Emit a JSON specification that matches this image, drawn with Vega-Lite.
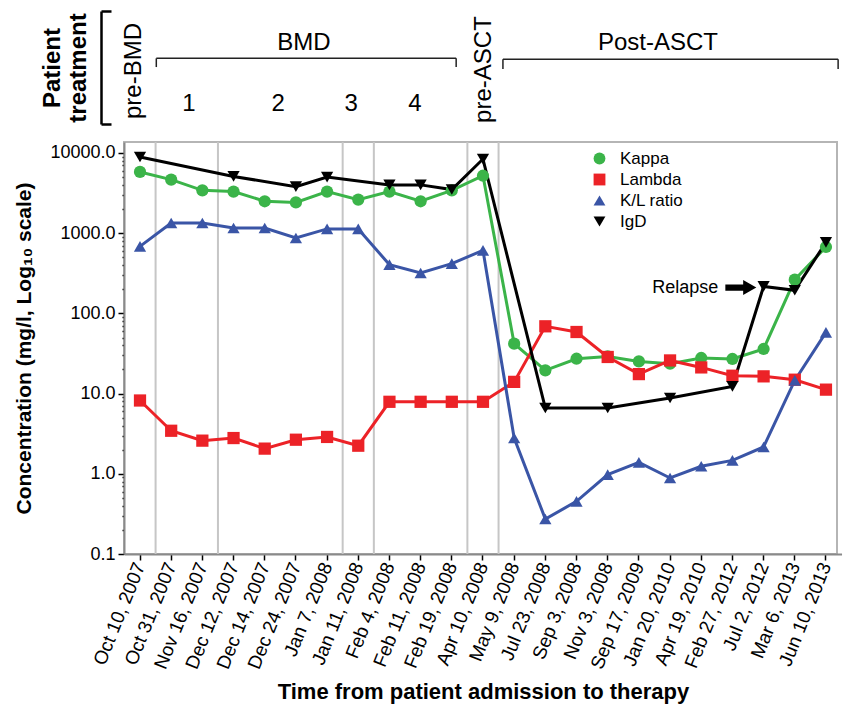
{
  "$schema": "https://vega.github.io/schema/vega-lite/v6.json",
  "background": "white",
  "padding": {"left": 12, "top": 9, "right": 2, "bottom": 2},
  "spacing": 18,
  "bounds": "flush",
  "config": {
    "font": "Liberation Sans",
    "axis": {"labelColor": "black", "titleColor": "black"},
    "text": {"color": "black"}
  },
  "vconcat": [
    {
      "width": 713,
      "height": 113,
      "view": {"stroke": null},
      "layer": [
        {
          "data": {"values": [
            {"x1": 0.523, "x2": 10.14, "y1": 0.581, "y2": 0.581},
            {"x1": 0.523, "x2": 0.523, "y1": 0.581, "y2": 0.504},
            {"x1": 10.14, "x2": 10.14, "y1": 0.581, "y2": 0.504},
            {"x1": 11.64, "x2": 22.39, "y1": 0.573, "y2": 0.573},
            {"x1": 11.64, "x2": 11.64, "y1": 0.573, "y2": 0.487},
            {"x1": 22.39, "x2": 22.39, "y1": 0.573, "y2": 0.487}
          ]},
          "mark": {"type": "rule", "color": "#222222", "strokeWidth": 1.5},
          "encoding": {
            "x": {"field": "x1", "type": "quantitative", "scale": {"domain": [-0.513, 22.354], "nice": false, "zero": false}, "axis": null},
            "x2": {"field": "x2"},
            "y": {"field": "y1", "type": "quantitative", "scale": {"domain": [0, 1], "nice": false, "zero": false},
              "axis": {
                "title": ["Patient", "treatment"],
                "titleFontSize": 24,
                "titleFontWeight": "bold",
                "titleLineHeight": 26,
                "titlePadding": 9,
                "labels": false,
                "values": [0, 1],
                "tickSize": -10,
                "tickWidth": 2.5,
                "tickColor": "black",
                "domainColor": "black",
                "domainWidth": 2.5,
                "grid": false,
                "offset": 23
              }
            },
            "y2": {"field": "y2"}
          }
        },
        {
          "data": {"values": [
            {"label": "BMD", "pos": 5.26, "level": 0.717},
            {"label": "Post-ASCT", "pos": 16.61, "level": 0.717},
            {"label": "1", "pos": 1.57, "level": 0.177},
            {"label": "2", "pos": 4.43, "level": 0.177},
            {"label": "3", "pos": 6.77, "level": 0.177},
            {"label": "4", "pos": 8.82, "level": 0.177}
          ]},
          "mark": {"type": "text", "fontSize": 24, "align": "center", "baseline": "middle"},
          "encoding": {
            "x": {"field": "pos", "type": "quantitative", "axis": null},
            "y": {"field": "level", "type": "quantitative",
              "axis": {
                "title": ["Patient", "treatment"],
                "titleFontSize": 24,
                "titleFontWeight": "bold",
                "titleLineHeight": 26,
                "titlePadding": 9,
                "labels": false,
                "values": [0, 1],
                "tickSize": -10,
                "tickWidth": 2.5,
                "tickColor": "black",
                "domainColor": "black",
                "domainWidth": 2.5,
                "grid": false,
                "offset": 23
              }
            },
            "text": {"field": "label"}
          }
        },
        {
          "data": {"values": [
            {"label": "pre-BMD", "pos": -0.19, "level": 0.469},
            {"label": "pre-ASCT", "pos": 11.02, "level": 0.482}
          ]},
          "mark": {"type": "text", "fontSize": 24, "angle": 270, "align": "center", "baseline": "middle"},
          "encoding": {
            "x": {"field": "pos", "type": "quantitative", "axis": null},
            "y": {"field": "level", "type": "quantitative",
              "axis": {
                "title": ["Patient", "treatment"],
                "titleFontSize": 24,
                "titleFontWeight": "bold",
                "titleLineHeight": 26,
                "titlePadding": 9,
                "labels": false,
                "values": [0, 1],
                "tickSize": -10,
                "tickWidth": 2.5,
                "tickColor": "black",
                "domainColor": "black",
                "domainWidth": 2.5,
                "grid": false,
                "offset": 23
              }
            },
            "text": {"field": "label"}
          }
        }
      ]
    },
    {
      "width": 713,
      "height": 412,
      "view": {"stroke": "#b5b5b5", "strokeWidth": 2},
      "layer": [
        {
          "data": {"values": [
            {"date": "Oct 31, 2007"},
            {"date": "Dec 12, 2007"},
            {"date": "Jan 11, 2008"},
            {"date": "Feb 4, 2008"},
            {"date": "Apr 10, 2008"},
            {"date": "May 9, 2008"}
          ]},
          "mark": {"type": "rule", "color": "#c6c6c6", "strokeWidth": 2},
          "encoding": {
            "x": {
              "field": "date", "type": "nominal", "bandPosition": 0,
              "scale": {
                "type": "band",
                "domain": ["Oct 10, 2007", "Oct 31, 2007", "Nov 16, 2007", "Dec 12, 2007", "Dec 14, 2007", "Dec 24, 2007", "Jan 7, 2008", "Jan 11, 2008", "Feb 4, 2008", "Feb 11, 2008", "Feb 19, 2008", "Apr 10, 2008", "May 9, 2008", "Jul 23, 2008", "Sep 3, 2008", "Nov 3, 2008", "Sep 17, 2009", "Jan 20, 2010", "Apr 19, 2010", "Feb 27, 2012", "Jul 2, 2012", "Mar 6, 2013", "Jun 10, 2013"],
                "range": [0.41, 717.55],
                "paddingInner": 0,
                "paddingOuter": 0
              },
              "axis": {
                "title": "Time from patient admission to therapy",
                "bandPosition": 0.5,
                "labelAngle": -68,
                "labelAlign": "right",
                "labelBaseline": "middle",
                "labelFontSize": 19,
                "labelPadding": 3,
                "tickSize": 6,
                "tickWidth": 1.5,
                "tickColor": "black",
                "domainColor": "#8a8a8a",
                "domainWidth": 2,
                "grid": false,
                "titleFontSize": 22,
                "titleFontWeight": "bold",
                "titlePadding": 10
              }
            }
          }
        },
        {
          "data": {"values": [
            {"date": "Oct 10, 2007", "Kappa": 5800, "Lambda": 8.2, "K/L ratio": 684, "IgD": 8900},
            {"date": "Oct 31, 2007", "Kappa": 4650, "Lambda": 3.44, "K/L ratio": 1340, "IgD": null},
            {"date": "Nov 16, 2007", "Kappa": 3420, "Lambda": 2.59, "K/L ratio": 1340, "IgD": null},
            {"date": "Dec 12, 2007", "Kappa": 3300, "Lambda": 2.79, "K/L ratio": 1160, "IgD": 5100},
            {"date": "Dec 14, 2007", "Kappa": 2500, "Lambda": 2.06, "K/L ratio": 1160, "IgD": null},
            {"date": "Dec 24, 2007", "Kappa": 2420, "Lambda": 2.66, "K/L ratio": 871, "IgD": 3800},
            {"date": "Jan 7, 2008", "Kappa": 3300, "Lambda": 2.88, "K/L ratio": 1130, "IgD": 5000},
            {"date": "Jan 11, 2008", "Kappa": 2620, "Lambda": 2.24, "K/L ratio": 1130, "IgD": null},
            {"date": "Feb 4, 2008", "Kappa": 3300, "Lambda": 7.9, "K/L ratio": 405, "IgD": 4000},
            {"date": "Feb 11, 2008", "Kappa": 2500, "Lambda": 7.9, "K/L ratio": 319, "IgD": 4000},
            {"date": "Feb 19, 2008", "Kappa": 3420, "Lambda": 7.9, "K/L ratio": 417, "IgD": 3500},
            {"date": "Apr 10, 2008", "Kappa": 5200, "Lambda": 7.9, "K/L ratio": 611, "IgD": 8400},
            {"date": "May 9, 2008", "Kappa": 41.9, "Lambda": 14, "K/L ratio": 2.79, "IgD": null},
            {"date": "Jul 23, 2008", "Kappa": 19.5, "Lambda": 69, "K/L ratio": 0.273, "IgD": 6.6},
            {"date": "Sep 3, 2008", "Kappa": 27.2, "Lambda": 58.6, "K/L ratio": 0.453, "IgD": null},
            {"date": "Nov 3, 2008", "Kappa": 29, "Lambda": 28.6, "K/L ratio": 0.975, "IgD": 6.6},
            {"date": "Sep 17, 2009", "Kappa": 25.2, "Lambda": 17.5, "K/L ratio": 1.39, "IgD": null},
            {"date": "Jan 20, 2010", "Kappa": 23.6, "Lambda": 25.9, "K/L ratio": 0.887, "IgD": 8.8},
            {"date": "Apr 19, 2010", "Kappa": 27.8, "Lambda": 21.2, "K/L ratio": 1.24, "IgD": null},
            {"date": "Feb 27, 2012", "Kappa": 27, "Lambda": 16.7, "K/L ratio": 1.47, "IgD": 12.3},
            {"date": "Jul 2, 2012", "Kappa": 36, "Lambda": 16.4, "K/L ratio": 2.16, "IgD": 217},
            {"date": "Mar 6, 2013", "Kappa": 263, "Lambda": 14.9, "K/L ratio": 14.6, "IgD": 194},
            {"date": "Jun 10, 2013", "Kappa": 673, "Lambda": 11.2, "K/L ratio": 58, "IgD": 767}
          ]},
          "transform": [
            {"fold": ["Kappa", "Lambda", "K/L ratio", "IgD"], "as": ["series", "value"]},
            {"filter": "isValid(datum.value)"}
          ],
          "encoding": {
            "x": {"field": "date", "type": "nominal", "sort": ["Oct 10, 2007", "Oct 31, 2007", "Nov 16, 2007", "Dec 12, 2007", "Dec 14, 2007", "Dec 24, 2007", "Jan 7, 2008", "Jan 11, 2008", "Feb 4, 2008", "Feb 11, 2008", "Feb 19, 2008", "Apr 10, 2008", "May 9, 2008", "Jul 23, 2008", "Sep 3, 2008", "Nov 3, 2008", "Sep 17, 2009", "Jan 20, 2010", "Apr 19, 2010", "Feb 27, 2012", "Jul 2, 2012", "Mar 6, 2013", "Jun 10, 2013"]},
            "y": {
              "field": "value", "type": "quantitative",
              "scale": {"type": "log", "domain": [0.1, 13700], "nice": false},
              "axis": {
                "title": "Concentration (mg/l, Log₁₀ scale)",
                "values": [0.1, 0.2, 0.3, 0.4, 0.5, 0.6, 0.7, 0.8, 0.9, 1, 2, 3, 4, 5, 6, 7, 8, 9, 10, 20, 30, 40, 50, 60, 70, 80, 90, 100, 200, 300, 400, 500, 600, 700, 800, 900, 1000, 2000, 3000, 4000, 5000, 6000, 7000, 8000, 9000, 10000],
                "format": ".1f",
                "labelExpr": "abs(log(datum.value)/LN10 - round(log(datum.value)/LN10)) < 0.001 ? datum.label : ''",
                "tickSize": {"condition": {"test": "abs(log(datum.value)/LN10 - round(log(datum.value)/LN10)) < 0.001", "value": 6}, "value": 2},
                "tickWidth": 1.5,
                "tickColor": "black",
                "labelFontSize": 18,
                "labelPadding": 3,
                "domainColor": "#8a8a8a",
                "domainWidth": 2,
                "grid": false,
                "titleFontSize": 21,
                "titleFontWeight": "bold",
                "titlePadding": 15
              }
            },
            "color": {
              "field": "series", "type": "nominal",
              "scale": {"domain": ["Kappa", "Lambda", "K/L ratio", "IgD"], "range": ["#3bb449", "#ec2227", "#3a55a6", "#000000"]},
              "legend": {"title": null, "orient": "none", "legendX": 467, "legendY": 139, "labelFontSize": 17, "symbolSize": 140, "rowPadding": 3, "labelOffset": 12, "symbolStrokeWidth": 0}
            }
          },
          "layer": [
            {
              "mark": {"type": "line", "strokeWidth": 3}
            },
            {
              "mark": {"type": "point", "filled": true, "opacity": 1, "size": 150, "strokeWidth": 0},
              "encoding": {
                "shape": {
                  "field": "series", "type": "nominal",
                  "scale": {"domain": ["Kappa", "Lambda", "K/L ratio", "IgD"], "range": ["circle", "square", "triangle-up", "triangle-down"]},
                  "legend": {"title": null, "orient": "none", "legendX": 467, "legendY": 139, "labelFontSize": 17, "symbolSize": 140, "rowPadding": 3, "labelOffset": 12, "symbolStrokeWidth": 0}
                }
              }
            }
          ]
        },
        {
          "data": {"values": [{"date": "Feb 27, 2012", "value": 210, "label": "Relapse"}]},
          "mark": {"type": "text", "align": "right", "baseline": "middle", "fontSize": 18},
          "encoding": {
            "x": {"field": "date", "type": "nominal", "bandPosition": 0.05},
            "y": {"field": "value", "type": "quantitative"},
            "text": {"field": "label"}
          }
        },
        {
          "data": {"values": [{"date": "Feb 27, 2012", "value": 210}]},
          "mark": {"type": "point", "filled": true, "opacity": 1, "color": "black", "strokeWidth": 0, "size": 960,
            "shape": "M -1 -0.2 L 0.15 -0.2 L 0.15 -0.48 L 1 0 L 0.15 0.48 L 0.15 0.2 L -1 0.2 Z"},
          "encoding": {
            "x": {"field": "date", "type": "nominal", "bandPosition": 0.77},
            "y": {"field": "value", "type": "quantitative"}
          }
        }
      ]
    }
  ]
}
